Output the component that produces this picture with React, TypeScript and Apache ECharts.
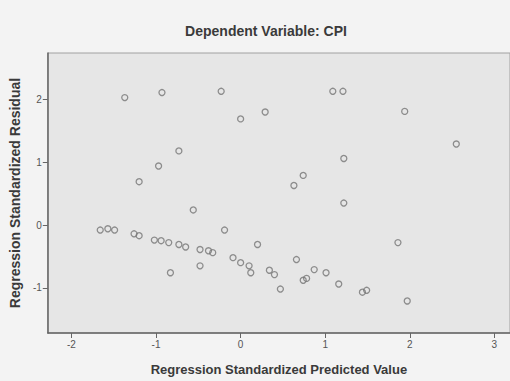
import React, { useEffect, useRef } from "react";
import * as echarts from "echarts";

const titleText = "Dependent Variable: CPI";
const xAxisName = "Regression Standardized Predicted Value";
const yAxisName = "Regression Standardized Residual";
const xTicks = [-2, -1, 0, 1, 2, 3];
const yTicks = [-1, 0, 1, 2];

const predicted = [
  -1.37, -0.93, -0.23, 0.0, 0.29, 1.09, 1.21, 1.94, 2.55,
  -0.73, -0.97, -1.2, 1.22, 0.74, 0.63, -0.56, 1.22,
  -1.66, -1.57, -1.49, -1.26, -1.2, -1.02, -0.94, -0.85, -0.73, -0.65, -0.48, -0.38, -0.33,
  -0.19, 0.2, 1.86,
  -0.83, -0.48, -0.09, 0.0, 0.1, 0.12, 0.34, 0.4, 0.66, 0.47, 0.74, 0.78, 0.87, 1.01, 1.16, 1.44, 1.49, 1.97,
];
const residual = [
  2.03, 2.11, 2.13, 1.69, 1.8, 2.13, 2.13, 1.81, 1.29,
  1.18, 0.94, 0.69, 1.06, 0.79, 0.63, 0.24, 0.35,
  -0.08, -0.06, -0.08, -0.14, -0.17, -0.24, -0.25, -0.28, -0.31, -0.35, -0.39, -0.41, -0.44,
  -0.08, -0.31, -0.28,
  -0.76, -0.65, -0.52, -0.6, -0.65, -0.76, -0.72, -0.79, -0.55, -1.02, -0.88, -0.85, -0.71, -0.76, -0.94, -1.07, -1.04, -1.21,
];

export default function App() {
  const ref = useRef<HTMLDivElement>(null);
  useEffect(() => {
    if (!ref.current) return;
    const chart = echarts.init(ref.current, undefined, { renderer: "svg" });
    const data = predicted.map((x, i) => [x, residual[i]]);
    const font = "'Liberation Sans', Arial, sans-serif";
    chart.setOption({
      animation: false,
      backgroundColor: "#f3f3f3",
      title: {
        text: titleText,
        left: 261,
        top: 19,
        textAlign: "center",
        textStyle: { fontFamily: font, fontSize: 14, fontWeight: "bold", color: "#3a3a3a" },
      },
      grid: {
        left: 43,
        top: 53,
        width: 470,
        height: 283,
        show: true,
        backgroundColor: "#e6e6e6",
        borderColor: "#a0a0a0",
        borderWidth: 1,
      },
      xAxis: {
        type: "value",
        min: -2.28,
        max: 3.185,
        name: xAxisName,
        nameLocation: "middle",
        nameGap: 30,
        nameTextStyle: { fontFamily: font, fontSize: 13, fontWeight: "bold", color: "#3a3a3a" },
        axisLine: { onZero: false, lineStyle: { color: "#666", width: 1.5 } },
        axisTick: { show: true, length: 5, lineStyle: { color: "#666" }, customValues: xTicks },
        axisLabel: { fontFamily: font, fontSize: 10, color: "#555", margin: 6, customValues: xTicks },
        splitLine: { show: false },
      },
      yAxis: {
        type: "value",
        min: -1.72,
        max: 2.74,
        name: yAxisName,
        nameLocation: "middle",
        nameGap: 24,
        nameTextStyle: { fontFamily: font, fontSize: 14, fontWeight: "bold", color: "#3a3a3a" },
        axisLine: { show: true, onZero: false, lineStyle: { color: "#666", width: 1.5 } },
        axisTick: { show: true, length: 5, lineStyle: { color: "#666" }, customValues: yTicks },
        axisLabel: { fontFamily: font, fontSize: 10, color: "#555", margin: 6, customValues: yTicks },
        splitLine: { show: false },
      },
      series: [
        {
          type: "scatter",
          data,
          symbol: "circle",
          symbolSize: 6,
          itemStyle: { color: "rgba(0,0,0,0)", borderColor: "#767676", borderWidth: 1.3 },
        },
      ],
    });
    return () => chart.dispose();
  }, []);
  return <div ref={ref} style={{ width: 510, height: 381, position: "absolute", left: 0, top: 0 }} />;
}
